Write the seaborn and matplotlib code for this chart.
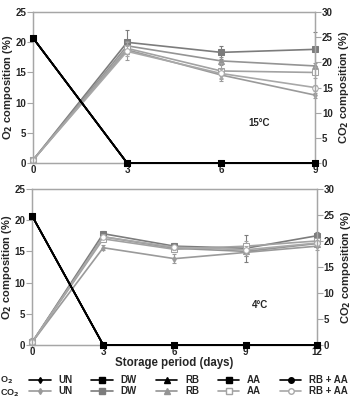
import matplotlib.pyplot as plt
import seaborn as sns
from matplotlib.lines import Line2D

# Data
treatments = ["UN", "DW", "RB", "AA", "RB + AA"]

days_15 = [0, 3, 6, 9]
o2_15 = {t: [20.7, 0, 0, 0] for t in treatments}
co2_15 = {
	"UN": [0.6, 22.5, 17.5, 13.5],
	"DW": [0.6, 24.0, 22.0, 22.6],
	"RB": [0.6, 23.3, 20.3, 19.3],
	"AA": [0.6, 22.8, 18.3, 18.0],
	"RB + AA": [0.6, 22.2, 17.8, 15.0],
}
co2_15_err = {
	"UN": [0, 2.0, 1.2, 0.5],
	"DW": [0, 2.4, 1.3, 3.4],
	"RB": [0, 1.0, 0.8, 0.5],
	"AA": [0, 1.2, 1.5, 1.0],
	"RB + AA": [0, 1.0, 0.8, 0.6],
}

days_4 = [0, 3, 6, 9, 12]
o2_4 = {t: [20.7, 0, 0, 0, 0] for t in treatments}
co2_4 = {
	"UN": [0.5, 18.7, 16.6, 17.8, 19.0],
	"DW": [0.5, 21.4, 19.0, 18.6, 21.0],
	"RB": [0.5, 20.8, 18.6, 18.0, 19.5],
	"AA": [0.5, 20.4, 18.4, 19.0, 20.0],
	"RB + AA": [0.5, 20.8, 18.8, 18.3, 19.6],
}
co2_4_err = {
	"UN": [0.9, 0.5, 0.8, 0.6, 0.8],
	"DW": [0.3, 0.6, 0.6, 2.6, 0.8],
	"RB": [0.3, 0.5, 0.5, 0.8, 0.6],
	"AA": [0.3, 0.5, 0.5, 1.0, 0.6],
	"RB + AA": [0.3, 0.5, 0.5, 0.8, 0.6],
}

# styles
markers = {"UN": "d", "DW": "s", "RB": "^", "AA": "s", "RB + AA": "o"}
msize = {"UN": 3, "DW": 4.5, "RB": 4, "AA": 4, "RB + AA": 4}
co2_col = {"UN": "#9a9a9a", "DW": "#7c7c7c", "RB": "#949494", "AA": "#a2a2a2", "RB + AA": "#a8a8a8"}
co2_face = {"UN": None, "DW": None, "RB": None, "AA": "white", "RB + AA": "white"}
spine_col = "#a6a6a6"

sns.set_theme(style="white")
plt.rcParams["font.family"] = ["Liberation Sans", "DejaVu Sans"]
plt.rcParams["font.weight"] = "bold"
plt.rcParams["axes.labelweight"] = "bold"

fig = plt.figure(figsize=(3.56, 3.98), dpi=100)
ax_top = fig.add_axes([0.093, 0.5905, 0.792, 0.379])
ax_bot = fig.add_axes([0.090, 0.1332, 0.800, 0.392])


def draw_panel(ax, days, o2, co2, err):
	ax2 = ax.twinx()
	for t in treatments:
		sns.lineplot(x=days, y=o2[t], ax=ax, color="black", marker=markers[t],
			markersize=msize[t], linewidth=1.2, markeredgecolor="black", clip_on=False, zorder=3)
	for t in treatments:
		face = co2_face[t] if co2_face[t] else co2_col[t]
		ax2.errorbar(days, co2[t], yerr=err[t], fmt="none", ecolor=co2_col[t],
			elinewidth=0.8, capsize=1.5, capthick=0.8, clip_on=False)
		sns.lineplot(x=days, y=co2[t], ax=ax2, color=co2_col[t], marker=markers[t],
			markersize=msize[t], linewidth=1.2, markerfacecolor=face,
			markeredgecolor=co2_col[t], clip_on=False)
	ax.set_xlim(days[0], days[-1])
	ax.set_ylim(0, 25)
	ax2.set_ylim(0, 30)
	ax.set_xticks(days)
	ax.set_yticks(range(0, 26, 5))
	ax2.set_yticks(range(0, 31, 5))
	ax.set_ylabel(r"O$_2$ composition (%)", fontsize=8, labelpad=0)
	ax2.set_ylabel(r"CO$_2$ composition (%)", fontsize=8, labelpad=3)
	for a in (ax, ax2):
		for s in a.spines.values():
			s.set_color(spine_col)
			s.set_linewidth(0.9)
		a.tick_params(axis="y", length=4, width=0.8, color=spine_col, pad=1,
			labelsize=7, direction="out")
		a.tick_params(axis="x", length=0, pad=1.5, labelsize=7)
		for lab in a.get_xticklabels() + a.get_yticklabels():
			lab.set_fontweight("bold")
	ax.set_zorder(ax2.get_zorder() + 1)
	ax.patch.set_visible(False)
	return ax2


draw_panel(ax_top, days_15, o2_15, co2_15, co2_15_err)
draw_panel(ax_bot, days_4, o2_4, co2_4, co2_4_err)
ax_top.text(0.80, 0.265, "15°C", transform=ax_top.transAxes, fontsize=7, fontweight="bold",
	ha="center", va="center")
ax_bot.text(0.80, 0.256, "4°C", transform=ax_bot.transAxes, fontsize=7, fontweight="bold",
	ha="center", va="center")
ax_bot.set_xlabel("Storage period (days)", fontsize=8.3, labelpad=0)

# legend
handles, labels = [], []
for t in treatments:
	handles.append(Line2D([], [], color="black", marker=markers[t], markersize=msize[t],
		linewidth=1.2, markeredgecolor="black"))
	labels.append(t)
	face = co2_face[t] if co2_face[t] else co2_col[t]
	handles.append(Line2D([], [], color=co2_col[t], marker=markers[t], markersize=msize[t],
		linewidth=1.2, markerfacecolor=face, markeredgecolor=co2_col[t]))
	labels.append(t)

fig.legend(handles, labels, ncol=5, loc="upper left", bbox_to_anchor=(0.082, 0.058),
	frameon=False, handlelength=2.2, handletextpad=0.8, columnspacing=1.95,
	labelspacing=0.12, borderpad=0, borderaxespad=0, prop={"weight": "bold", "size": 7})
fig.text(0.0, 0.044, r"O$_2$", fontsize=6.5, fontweight="bold", va="center")
fig.text(0.0, 0.012, r"CO$_2$", fontsize=6.5, fontweight="bold", va="center")

plt.savefig("out.png", dpi=100)
